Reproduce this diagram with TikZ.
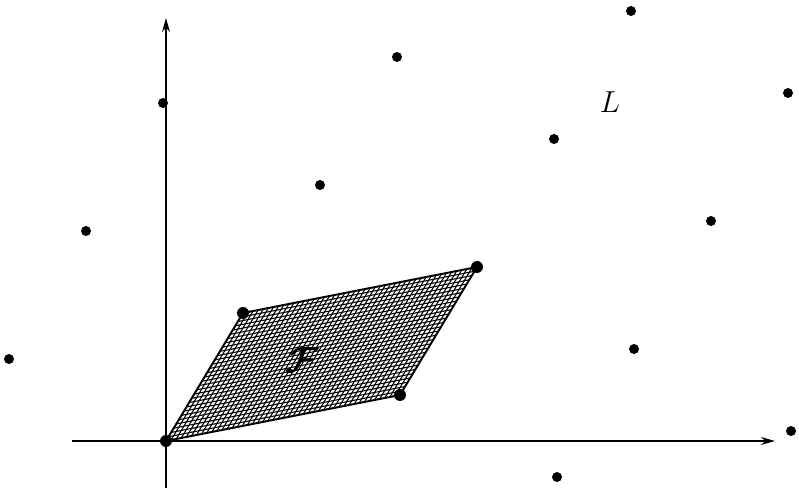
\documentclass[tikz,border=0pt]{standalone}
\usepackage{bm}
\usetikzlibrary{arrows.meta,calc}
\begin{document}
\begin{tikzpicture}[x=0.02cm,y=-0.02cm,
  dot/.style={circle,fill=black,inner sep=0pt,minimum size=10*0.02cm},
  bigdot/.style={circle,fill=black,inner sep=0pt,minimum size=12*0.02cm},
  axis/.style={line width=0.7pt,-{Stealth[length=8pt,width=4.5pt]}},
  hatch/.style={line width=0.6pt},
  border/.style={line width=1.1pt,line join=round}]
\useasboundingbox (0,0) rectangle (799,493);
\def\Ox{166}\def\Oy{441}
\def\ax{234}\def\ay{-46}
\def\bx{77}\def\by{-128}
\newcommand{\latpt}[3]{\coordinate (#1) at ({\Ox+(#2)*\ax+(#3)*\bx},{\Oy+(#2)*\ay+(#3)*\by});}
\latpt{p00}{0}{0}
\latpt{p10}{1}{0}
\latpt{p01}{0}{1}
\latpt{p11}{1}{1}
% axes
\coordinate (xs) at (72,441);
\coordinate (xe) at (775,441);
\coordinate (ys) at (166,488);
\coordinate (ye) at (166,18);
\draw[axis] (xs) -- (xe);
\draw[axis] (ys) -- (ye);
% hatched fundamental domain
\begin{scope}
\clip (p00) -- (p10) -- (p11) -- (p01) -- cycle;
\foreach \i in {0,...,30}{
  \draw[hatch] ($(p00)!\i/30!(p01)$) -- ($(p10)!\i/30!(p11)$);
}
\foreach \i in {0,...,46}{
  \draw[hatch] ($(p00)!\i/46!(p10)$) -- ($(p01)!\i/46!(p11)$);
}
\end{scope}
\draw[border] (p00) -- (p10) -- (p11) -- (p01) -- cycle;
% lattice points
\foreach \a/\b in {-1/3,-1/2,-1/1,2/-1,2/0,2/1,3/-1,1/2,1/3,2/2,0/2,0/3}{
  \node[dot] (q\a\b) at ({\Ox+(\a)*\ax+(\b)*\bx},{\Oy+(\a)*\ay+(\b)*\by}) {};
}
\node[bigdot] (n00) at (p00) {};
\node[bigdot] (n10) at (p10) {};
\node[bigdot] (n01) at (p01) {};
\node[bigdot] (n11) at (p11) {};
\node[inner sep=0pt,font=\fontsize{20}{22}\selectfont] (F) at (302,360) {$\bm{\mathcal{F}}$};
\node[inner sep=0pt,font=\fontsize{19}{22}\selectfont] (L) at (610,102) {$L$};
\end{tikzpicture}
\end{document}
